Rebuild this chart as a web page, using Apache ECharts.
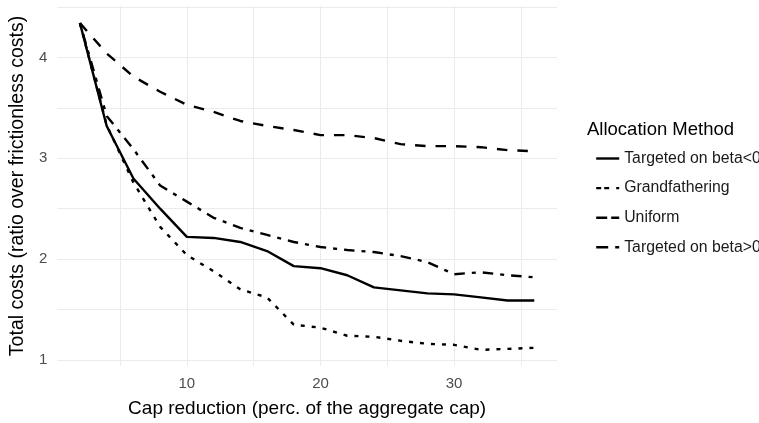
<!DOCTYPE html>
<html>
<head>
<meta charset="utf-8">
<script src="https://cdn.jsdelivr.net/npm/echarts@6/dist/echarts.min.js"></script>
<style>
  html, body { margin: 0; padding: 0; background: #fff; }
  #chart { width: 759px; height: 423px; }
</style>
</head>
<body>
<div id="chart"></div>
<script>
// Cap reduction (% of the aggregate cap)
const capReduction = [2, 4, 6, 8, 10, 12, 14, 16, 18, 20, 22, 24, 26, 28, 30, 32, 34, 36];

// Total costs relative to the frictionless benchmark, per allocation method
const targetedNeg   = [4.34, 3.32, 2.80, 2.50, 2.22, 2.21, 2.17, 2.08, 1.93, 1.91, 1.84, 1.72, 1.69, 1.66, 1.65, 1.62, 1.59, 1.59];
const grandfather   = [4.34, 3.33, 2.76, 2.32, 2.04, 1.88, 1.70, 1.62, 1.35, 1.32, 1.24, 1.23, 1.19, 1.16, 1.15, 1.10, 1.11, 1.12];
const uniform       = [4.34, 4.04, 3.81, 3.66, 3.53, 3.46, 3.37, 3.32, 3.28, 3.23, 3.23, 3.20, 3.14, 3.12, 3.12, 3.11, 3.08, 3.07];
const targetedPos   = [4.34, 3.42, 3.09, 2.73, 2.57, 2.41, 2.31, 2.24, 2.17, 2.12, 2.09, 2.07, 2.03, 1.97, 1.85, 1.87, 1.84, 1.82];

const seriesNames = ['Targeted on beta<0', 'Grandfathering', 'Uniform', 'Targeted on beta>0'];

// Tick positions
const xGridTicks  = [5, 10, 15, 20, 25, 30, 35];
const xLabelTicks = [10, 20, 30];
const yGridTicks  = [1, 1.5, 2, 2.5, 3, 3.5, 4, 4.5];
const yLabelTicks = [1, 2, 3, 4];

const pair = vals => capReduction.map((x, i) => [x, vals[i]]);

const FONT = '"Liberation Sans", Arial, sans-serif';
const LW = 2.4;

// Dash patterns for the plotted lines and for the short legend keys
const dashes = ['solid', [4, 7], [10.5, 10], [4, 7, 10.5, 7]];
const keyDashes = ['solid', [5, 3, 5, 7, 3, 10], [11, 4], [12, 7, 4, 10]];

const lineSeries = (i, vals) => ({
  name: seriesNames[i],
  type: 'line',
  data: pair(vals),
  symbol: 'none',
  smooth: false,
  lineStyle: { color: '#000', width: LW, type: dashes[i], cap: 'butt' },
  itemStyle: { color: '#000' },
  emphasis: { disabled: true }
});

const chart = echarts.init(document.getElementById('chart'), null, { renderer: 'canvas' });

chart.setOption({
  animation: false,
  backgroundColor: '#ffffff',
  textStyle: { fontFamily: FONT },
  title: {
    text: 'Allocation Method',
    left: 582,
    top: 115,
    textStyle: { fontFamily: FONT, fontSize: 18.5, fontWeight: 'normal', color: '#000' }
  },
  legend: {
    orient: 'vertical',
    left: 590,
    top: 145.5,
    itemWidth: 23,
    itemHeight: 16,
    itemGap: 13.6,
    data: seriesNames.map((n, i) => ({
      name: n,
      lineStyle: { type: keyDashes[i], width: LW, color: '#000' }
    })),
    itemStyle: { opacity: 0 },
    textStyle: { fontFamily: FONT, fontSize: 15.8, color: '#1a1a1a' }
  },
  grid: { left: 55, right: 202, top: 6, bottom: 54 },
  xAxis: {
    type: 'value',
    min: 0.3,
    max: 37.7,
    name: 'Cap reduction (perc. of the aggregate cap)',
    nameLocation: 'middle',
    nameGap: 33,
    nameTextStyle: { fontFamily: FONT, fontSize: 19, color: '#000' },
    axisLine: { show: false },
    axisTick: { show: false, customValues: xGridTicks },
    axisLabel: { customValues: xLabelTicks, color: '#4d4d4d', fontSize: 15, margin: 10, fontFamily: FONT },
    splitLine: { show: true, lineStyle: { color: '#ebebeb', width: 1 } }
  },
  yAxis: {
    type: 'value',
    min: 0.94,
    max: 4.51,
    name: 'Total costs (ratio over frictionless costs)',
    nameLocation: 'middle',
    nameGap: 28,
    nameTextStyle: { fontFamily: FONT, fontSize: 19.5, color: '#000' },
    axisLine: { show: false },
    axisTick: { show: false, customValues: yGridTicks },
    axisLabel: { customValues: yLabelTicks, color: '#4d4d4d', fontSize: 15, margin: 10, fontFamily: FONT },
    splitLine: { show: true, lineStyle: { color: '#ebebeb', width: 1 } }
  },
  series: [
    lineSeries(0, targetedNeg),
    lineSeries(1, grandfather),
    lineSeries(2, uniform),
    lineSeries(3, targetedPos)
  ]
});
</script>
</body>
</html>
